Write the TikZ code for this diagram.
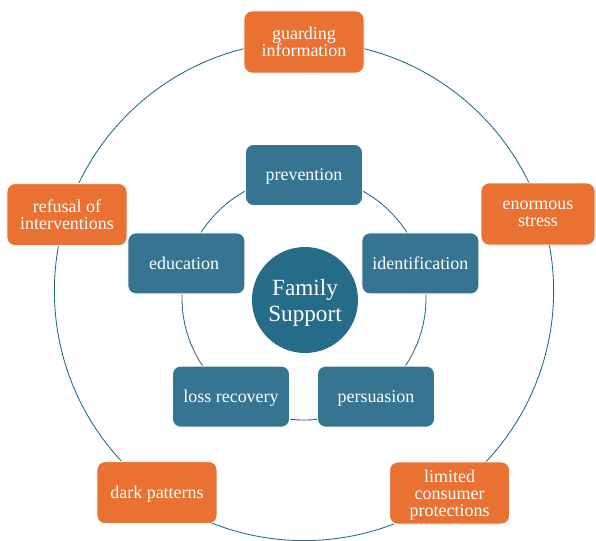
\documentclass[tikz,border=0pt]{standalone}
\usepackage{fontspec}
\setmainfont{Liberation Serif}
\definecolor{ringblue}{HTML}{1F6786}
\definecolor{boxblue}{HTML}{357592}
\definecolor{hubblue}{HTML}{256C8A}
\definecolor{boxorange}{HTML}{E97132}
\tikzset{
    box/.style={
        rounded corners=0.2cm,
        draw=white,
        line width=0.6pt,
        text=white,
        align=center,
        inner sep=0pt,
        text depth=0pt,
        font=\fontsize{12.8}{12}\selectfont
    },
    inner box/.style={box, fill=boxblue, minimum width=2.925cm, minimum height=1.525cm},
    outer box/.style={box, fill=boxorange, minimum width=3cm, minimum height=1.55cm},
    ring/.style={draw=ringblue, line width=0.6pt}
}
\begin{document}
\begin{tikzpicture}
        \useasboundingbox (-7.6,-6.225) rectangle (7.3,7.275);
        \draw[ring] (0,0) circle (6.24);
        \draw[ring] (0,-0.175) circle (3.05);
        
        \node[
            circle,
            fill=hubblue,
            minimum size=2.65cm,
            text=white,
            align=center,
            text depth=0pt,
            font=\fontsize{16.5}{18.5}\selectfont
        ] (hub) at (0.025,-0.225) {Family\\Support};
        
        \foreach \n/\p/\t in {
            prevention/{(0,2.9)}/prevention,
            identification/{(2.91,0.69)}/identification,
            persuasion/{(1.8,-2.64)}/persuasion,
            lossrecovery/{(-1.825,-2.64)}/loss recovery,
            education/{(-2.94,0.69)}/education
        } {
            \node[inner box] (\n) at \p {\t};
        }
        
        \foreach \n/\p/\t in {
            guarding/{(0,6.225)}/guarding\\information,
            limited/{(3.64,-5.05)}/limited\\consumer\\protections,
            dark/{(-3.675,-5.04)}/dark patterns,
            refusal/{(-5.925,1.91)}/refusal of\\interventions
        } {
            \node[outer box] (\n) at \p {\t};
        }
        \node[outer box, minimum width=2.85cm] (stress) at (5.85,1.925) {enormous\\stress};
    \end{tikzpicture}
\end{document}
